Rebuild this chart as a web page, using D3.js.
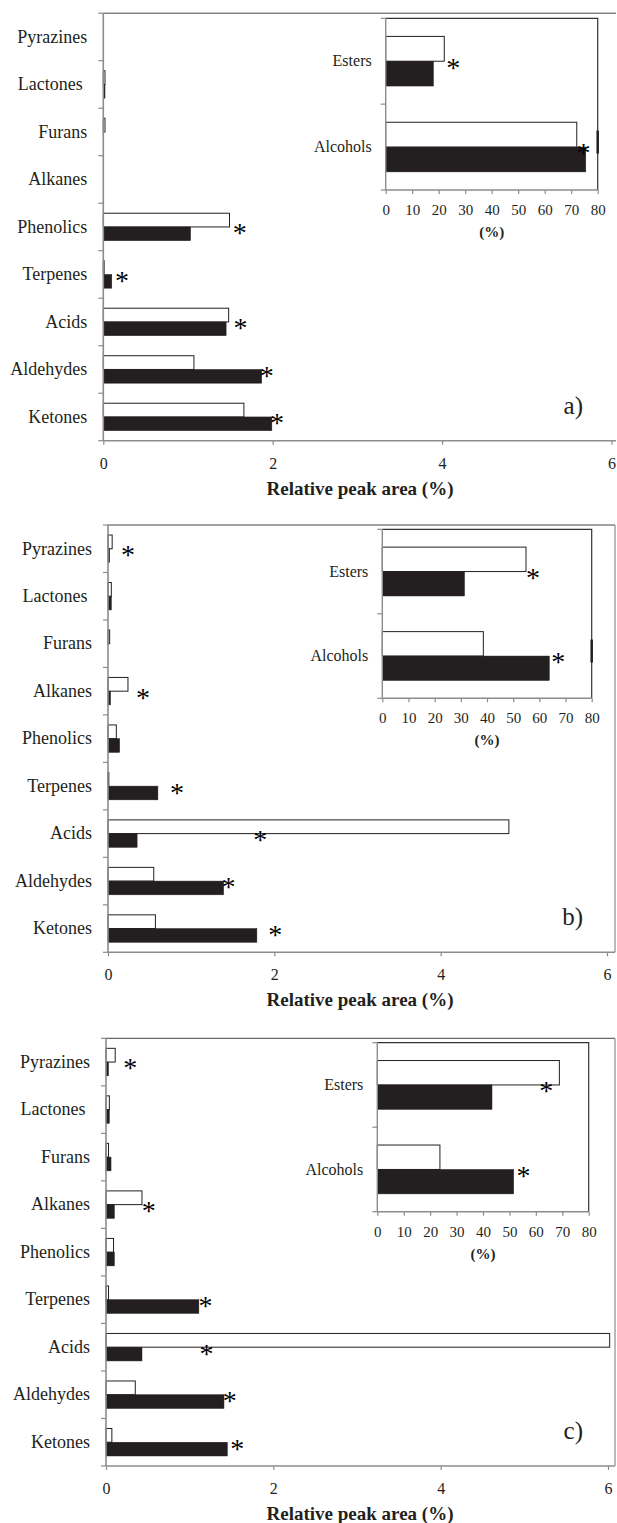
<!DOCTYPE html>
<html>
<head>
<meta charset="utf-8">
<script src="https://cdn.jsdelivr.net/npm/d3@7"></script>
<style>
  body { margin: 0; background: #fff; }
  svg { display: block; }
  svg text { font-family: "Liberation Serif", "Times New Roman", "DejaVu Serif", serif; }
</style>
</head>
<body>
<script>
// categories (top to bottom)
const categories = ["Pyrazines", "Lactones", "Furans", "Alkanes", "Phenolics", "Terpenes", "Acids", "Aldehydes", "Ketones"];
const insetCategories = ["Esters", "Alcohols"];
const xTicks = [0, 2, 4, 6];
const insetTicks = [0, 10, 20, 30, 40, 50, 60, 70, 80];

// panel a
const aWhite = [0, 0.02, 0.02, 0, 1.49, 0.01, 1.48, 1.07, 1.66];
const aBlack = [0, 0.02, 0, 0, 1.03, 0.10, 1.45, 1.87, 1.99];
const aStars = [["Phenolics", 1.61], ["Terpenes", 0.22], ["Acids", 1.62], ["Aldehydes", 1.93], ["Ketones", 2.05]];
const aInsetWhite = [22.1, 72.1];
const aInsetBlack = [18.0, 75.5];
const aInsetStars = [["Esters", 25.5], ["Alcohols", 74.6]];

// panel b
const bWhite = [0.05, 0.04, 0.02, 0.24, 0.10, 0.01, 4.82, 0.55, 0.57];
const bBlack = [0.02, 0.04, 0, 0.03, 0.14, 0.60, 0.35, 1.39, 1.79];
const bStars = [["Pyrazines", 0.24], ["Alkanes", 0.42], ["Terpenes", 0.83], ["Acids", 1.83], ["Aldehydes", 1.45], ["Ketones", 2.01]];
const bInsetWhite = [54.9, 38.6];
const bInsetBlack = [31.4, 63.8];
const bInsetStars = [["Esters", 57.6], ["Alcohols", 67.2]];

// panel c
const cWhite = [0.11, 0.04, 0.03, 0.43, 0.09, 0.03, 6.02, 0.35, 0.07];
const cBlack = [0.03, 0.04, 0.06, 0.10, 0.10, 1.11, 0.43, 1.41, 1.45];
const cStars = [["Pyrazines", 0.29], ["Alkanes", 0.51], ["Terpenes", 1.19], ["Acids", 1.20], ["Aldehydes", 1.48], ["Ketones", 1.57]];
const cInsetWhite = [68.9, 23.7];
const cInsetBlack = [43.4, 51.6];
const cInsetStars = [["Esters", 63.9], ["Alcohols", 55.3]];

const width = 617, height = 1523;
const dark = "#231f20", grey = "#8c8c8c";
const serif = "'Liberation Serif', 'Times New Roman', 'DejaVu Serif', serif";

const panels = [
  { label: "a)", white: aWhite, black: aBlack, stars: aStars,
    inWhite: aInsetWhite, inBlack: aInsetBlack, inStars: aInsetStars,
    top: 13.2, bottom: 440.7, left: 103.3, x6: 611.5, right: 616, rightBorder: false,
    inset: { left: 385.7, right: 597.7, top: 18.3, bottom: 190, mark: true } },
  { label: "b)", white: bWhite, black: bBlack, stars: bStars,
    inWhite: bInsetWhite, inBlack: bInsetBlack, inStars: bInsetStars,
    top: 525, bottom: 952.3, left: 108, x6: 607, right: 615, rightBorder: true,
    inset: { left: 382.3, right: 591.7, top: 529.3, bottom: 698.3, mark: true } },
  { label: "c)", white: cWhite, black: cBlack, stars: cStars,
    inWhite: cInsetWhite, inBlack: cInsetBlack, inStars: cInsetStars,
    top: 1038.3, bottom: 1466, left: 106, x6: 608, right: 615, rightBorder: true,
    inset: { left: 377.3, right: 588.7, top: 1042.7, bottom: 1211.7, mark: false } }
];

const svg = d3.select("body").append("svg")
  .attr("width", width)
  .attr("height", height);

// grouped horizontal bars (white = first series, black = second)
function drawBars(g, cats, white, black, x, y) {
  const y1 = d3.scaleBand().domain(["white", "black"]).range([0, y.bandwidth()]).paddingOuter(0.73);
  const rows = [];
  cats.forEach((c, i) => {
    rows.push({ cat: c, key: "white", v: white[i] });
    rows.push({ cat: c, key: "black", v: black[i] });
  });
  g.selectAll(null)
    .data(rows.filter(d => d.v > 0))
    .join("rect")
    .attr("x", x(0))
    .attr("y", d => y(d.cat) + y1(d.key))
    .attr("width", d => x(d.v) - x(0))
    .attr("height", y1.bandwidth())
    .attr("fill", d => d.key === "white" ? "#fff" : dark)
    .attr("stroke", dark)
    .attr("stroke-width", d => d.key === "white" ? 1 : 0.5);
}

function drawStars(g, stars, x, y) {
  g.selectAll(null)
    .data(stars)
    .join("text")
    .attr("x", d => x(d[1]))
    .attr("y", d => y(d[0]) + y.bandwidth() / 2)
    .attr("dy", "0.55em")
    .attr("text-anchor", "middle")
    .style("font-family", serif)
    .style("font-size", "28px")
    .attr("fill", "#000")
    .text("*");
}

function bandTicks(g, y, x0) {
  const edges = y.domain().map(c => y(c)).concat([y.range()[1]]);
  g.selectAll(null)
    .data(edges)
    .join("line")
    .attr("x1", x0 - 5).attr("x2", x0)
    .attr("y1", d => d).attr("y2", d => d)
    .attr("stroke", grey).attr("stroke-width", 1.2);
}

function styleText(sel, size) {
  sel.style("font-size", size + "px").style("font-family", serif).attr("fill", dark);
}

function drawPanel(p) {
  const g = svg.append("g");
  const x = d3.scaleLinear().domain([0, 6]).range([p.left, p.x6]);
  const y = d3.scaleBand().domain(categories).range([p.top, p.bottom]);

  // frame: top border and right border
  g.append("line")
    .attr("x1", p.left).attr("x2", p.right)
    .attr("y1", p.top).attr("y2", p.top)
    .attr("stroke", "#444").attr("stroke-width", 1);
  if (p.rightBorder) {
    g.append("line")
      .attr("x1", p.right).attr("x2", p.right)
      .attr("y1", p.top).attr("y2", p.bottom)
      .attr("stroke", grey).attr("stroke-width", 1.2);
  }

  drawBars(g, categories, p.white, p.black, x, y);

  // left axis with category labels
  const yAxis = g.append("g")
    .attr("transform", `translate(${p.left},0)`)
    .call(d3.axisLeft(y).tickSize(0).tickPadding(16)
      .tickFormat(d => d === "Lactones" ? "Lactones\u00a0" : d));
  yAxis.attr("font-family", null);
  yAxis.select(".domain").remove();
  styleText(yAxis.selectAll("text"), 18);
  g.append("line")
    .attr("x1", p.left).attr("x2", p.left)
    .attr("y1", p.top).attr("y2", p.bottom)
    .attr("stroke", grey).attr("stroke-width", 1.6);
  bandTicks(g, y, p.left);

  // bottom axis
  const xAxis = g.append("g")
    .attr("transform", `translate(0,${p.bottom})`)
    .call(d3.axisBottom(x).tickValues(xTicks).tickFormat(d3.format("d"))
      .tickSize(4).tickSizeOuter(0).tickPadding(12.6));
  xAxis.attr("font-family", null);
  xAxis.select(".domain").remove();
  xAxis.selectAll("line").attr("stroke", grey).attr("stroke-width", 1.2);
  styleText(xAxis.selectAll("text"), 16);
  g.append("line")
    .attr("x1", p.left).attr("x2", p.right)
    .attr("y1", p.bottom).attr("y2", p.bottom)
    .attr("stroke", grey).attr("stroke-width", 1.6);

  drawStars(g, p.stars, x, y);

  g.append("text")
    .attr("x", 360).attr("y", p.bottom + 54)
    .attr("text-anchor", "middle")
    .style("font-weight", "bold")
    .call(styleText, 19)
    .text("Relative peak area (%)");

  g.append("text")
    .attr("x", 583).attr("y", p.bottom - 27)
    .attr("text-anchor", "end")
    .call(styleText, 25)
    .text(p.label);

  // inset: esters and alcohols
  const s = p.inset;
  const xi = d3.scaleLinear().domain([0, 80]).range([s.left, s.right]);
  const yi = d3.scaleBand().domain(insetCategories).range([s.top, s.bottom]);

  g.append("path")
    .attr("d", `M${s.left},${s.top}H${s.right}V${s.bottom}`)
    .attr("fill", "none").attr("stroke", "#333").attr("stroke-width", 1.2);
  if (s.mark) {
    const yc = yi("Alcohols") + yi.bandwidth() / 2 - 5;
    g.append("line")
      .attr("x1", s.right).attr("x2", s.right)
      .attr("y1", yc - 11.5).attr("y2", yc + 11.5)
      .attr("stroke", dark).attr("stroke-width", 2.5);
  }

  drawBars(g, insetCategories, p.inWhite, p.inBlack, xi, yi);

  const yiAxis = g.append("g")
    .attr("transform", `translate(${s.left},0)`)
    .call(d3.axisLeft(yi).tickSize(0).tickPadding(14));
  yiAxis.attr("font-family", null);
  yiAxis.select(".domain").remove();
  styleText(yiAxis.selectAll("text"), 16);
  g.append("line")
    .attr("x1", s.left).attr("x2", s.left)
    .attr("y1", s.top).attr("y2", s.bottom)
    .attr("stroke", grey).attr("stroke-width", 1.4);
  bandTicks(g, yi, s.left);

  const xiAxis = g.append("g")
    .attr("transform", `translate(0,${s.bottom})`)
    .call(d3.axisBottom(xi).tickValues(insetTicks).tickSize(4).tickSizeOuter(0).tickPadding(10.3));
  xiAxis.attr("font-family", null);
  xiAxis.select(".domain").remove();
  xiAxis.selectAll("line").attr("stroke", grey).attr("stroke-width", 1.2);
  styleText(xiAxis.selectAll("text"), 15);
  g.append("line")
    .attr("x1", s.left).attr("x2", s.right)
    .attr("y1", s.bottom).attr("y2", s.bottom)
    .attr("stroke", grey).attr("stroke-width", 1.4);

  drawStars(g, p.inStars, xi, yi);

  g.append("text")
    .attr("x", (s.left + s.right) / 2).attr("y", s.bottom + 47)
    .attr("text-anchor", "middle")
    .style("font-weight", "bold")
    .call(styleText, 15)
    .text("(%)");
}

panels.forEach(drawPanel);
</script>
</body>
</html>
